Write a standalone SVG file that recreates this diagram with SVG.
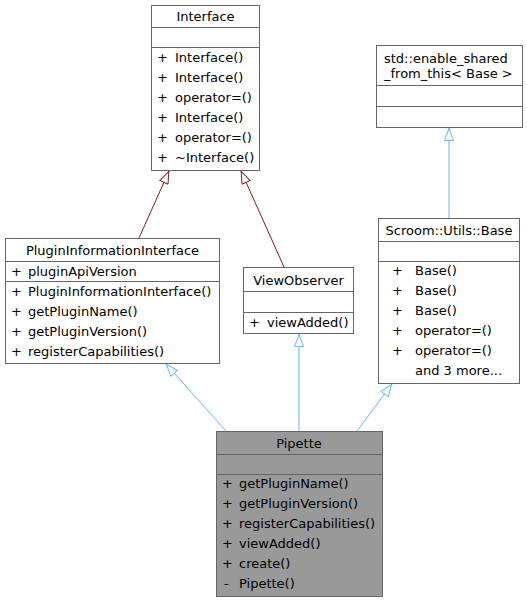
<svg xmlns="http://www.w3.org/2000/svg" width="527" height="603" viewBox="0 0 527 603">
<style>
text{font-family:"DejaVu Sans","Liberation Sans",sans-serif;font-size:13px;fill:#000}
.c{text-anchor:middle}
.box{fill:#fff;stroke:#666;stroke-width:1}
.cur{fill:#999;stroke:#666;stroke-width:1}
.sep{stroke:#666;stroke-width:1}
.blue{stroke:#63b8ff;stroke-width:1;fill:none}
.red{stroke:#8b1a1a;stroke-width:1;fill:none}
</style>
<defs>
<marker id="ab" viewBox="0 0 13 10" refX="13" refY="5" markerWidth="13" markerHeight="10" markerUnits="userSpaceOnUse" orient="auto">
<path d="M0.5,0.5 L12.5,5 L0.5,9.5 Z" fill="#fff" stroke="#63b8ff"/>
</marker>
<marker id="ar" viewBox="0 0 13 10" refX="13" refY="5" markerWidth="13" markerHeight="10" markerUnits="userSpaceOnUse" orient="auto">
<path d="M0.5,0.5 L12.5,5 L0.5,9.5 Z" fill="#fff" stroke="#8b1a1a"/>
</marker>
</defs>
<g id="connectors">
<path class="red" d="M139,238 L169,171" marker-end="url(#ar)"/>
<path class="red" d="M284,267 L241,171" marker-end="url(#ar)"/>
<path class="blue" d="M226,431 L166,364" marker-end="url(#ab)"/>
<path class="blue" d="M299,431 L299,334" marker-end="url(#ab)"/>
<path class="blue" d="M357,431 L392,384" marker-end="url(#ab)"/>
<path class="blue" d="M449,218 L449,128" marker-end="url(#ab)"/>
</g>
<g id="Interface">
<rect class="box" x="151.5" y="5.5" width="108" height="165"/>
<line class="sep" x1="151.5" y1="27.5" x2="259.5" y2="27.5"/>
<line class="sep" x1="151.5" y1="47.5" x2="259.5" y2="47.5"/>
<text class="c" x="205.5" y="21">Interface</text>
<text x="157" y="62">+</text><text x="175" y="62">Interface()</text>
<text x="157" y="82">+</text><text x="175" y="82">Interface()</text>
<text x="157" y="102">+</text><text x="175" y="102">operator=()</text>
<text x="157" y="122">+</text><text x="175" y="122">Interface()</text>
<text x="157" y="142">+</text><text x="175" y="142">operator=()</text>
<text x="157" y="162">+</text><text x="175" y="162">~Interface()</text>
</g>
<g id="PluginInformationInterface">
<rect class="box" x="5.5" y="238.5" width="214" height="125"/>
<line class="sep" x1="5.5" y1="261.5" x2="219.5" y2="261.5"/>
<line class="sep" x1="5.5" y1="281.5" x2="219.5" y2="281.5"/>
<text class="c" x="112.5" y="255">PluginInformationInterface</text>
<text x="11" y="276">+</text><text x="28" y="276">pluginApiVersion</text>
<text x="11" y="296">+</text><text x="28" y="296">PluginInformationInterface()</text>
<text x="11" y="316">+</text><text x="28" y="316">getPluginName()</text>
<text x="11" y="336">+</text><text x="28" y="336">getPluginVersion()</text>
<text x="11" y="356">+</text><text x="28" y="356">registerCapabilities()</text>
</g>
<g id="ViewObserver">
<rect class="box" x="243.5" y="267.5" width="110" height="66"/>
<line class="sep" x1="243.5" y1="291.5" x2="353.5" y2="291.5"/>
<line class="sep" x1="243.5" y1="312.5" x2="353.5" y2="312.5"/>
<text class="c" x="298.5" y="285">ViewObserver</text>
<text x="249" y="327">+</text><text x="267" y="327">viewAdded()</text>
</g>
<g id="enable_shared_from_this">
<rect class="box" x="376.5" y="45.5" width="146" height="82"/>
<line class="sep" x1="376.5" y1="85.5" x2="522.5" y2="85.5"/>
<line class="sep" x1="376.5" y1="106.5" x2="522.5" y2="106.5"/>
<text x="384" y="63">std::enable_shared</text>
<text x="384" y="78">_from_this&lt; Base &gt;</text>
</g>
<g id="Base">
<rect class="box" x="378.5" y="218.5" width="141" height="165"/>
<line class="sep" x1="378.5" y1="241.5" x2="519.5" y2="241.5"/>
<line class="sep" x1="378.5" y1="261.5" x2="519.5" y2="261.5"/>
<text class="c" x="449" y="235">Scroom::Utils::Base</text>
<text x="392" y="275">+</text><text x="415" y="275">Base()</text>
<text x="392" y="295">+</text><text x="415" y="295">Base()</text>
<text x="392" y="315">+</text><text x="415" y="315">Base()</text>
<text x="392" y="335">+</text><text x="415" y="335">operator=()</text>
<text x="392" y="355">+</text><text x="415" y="355">operator=()</text>
<text x="415" y="375">and 3 more...</text>
</g>
<g id="Pipette">
<rect class="cur" x="216.5" y="431.5" width="166" height="165"/>
<line class="sep" x1="216.5" y1="454.5" x2="382.5" y2="454.5"/>
<line class="sep" x1="216.5" y1="474.5" x2="382.5" y2="474.5"/>
<text class="c" x="299" y="448">Pipette</text>
<text x="222" y="488">+</text><text x="239" y="488">getPluginName()</text>
<text x="222" y="508">+</text><text x="239" y="508">getPluginVersion()</text>
<text x="222" y="528">+</text><text x="239" y="528">registerCapabilities()</text>
<text x="222" y="548">+</text><text x="239" y="548">viewAdded()</text>
<text x="222" y="568">+</text><text x="239" y="568">create()</text>
<text x="224" y="588">-</text><text x="239" y="588">Pipette()</text>
</g>
</svg>
